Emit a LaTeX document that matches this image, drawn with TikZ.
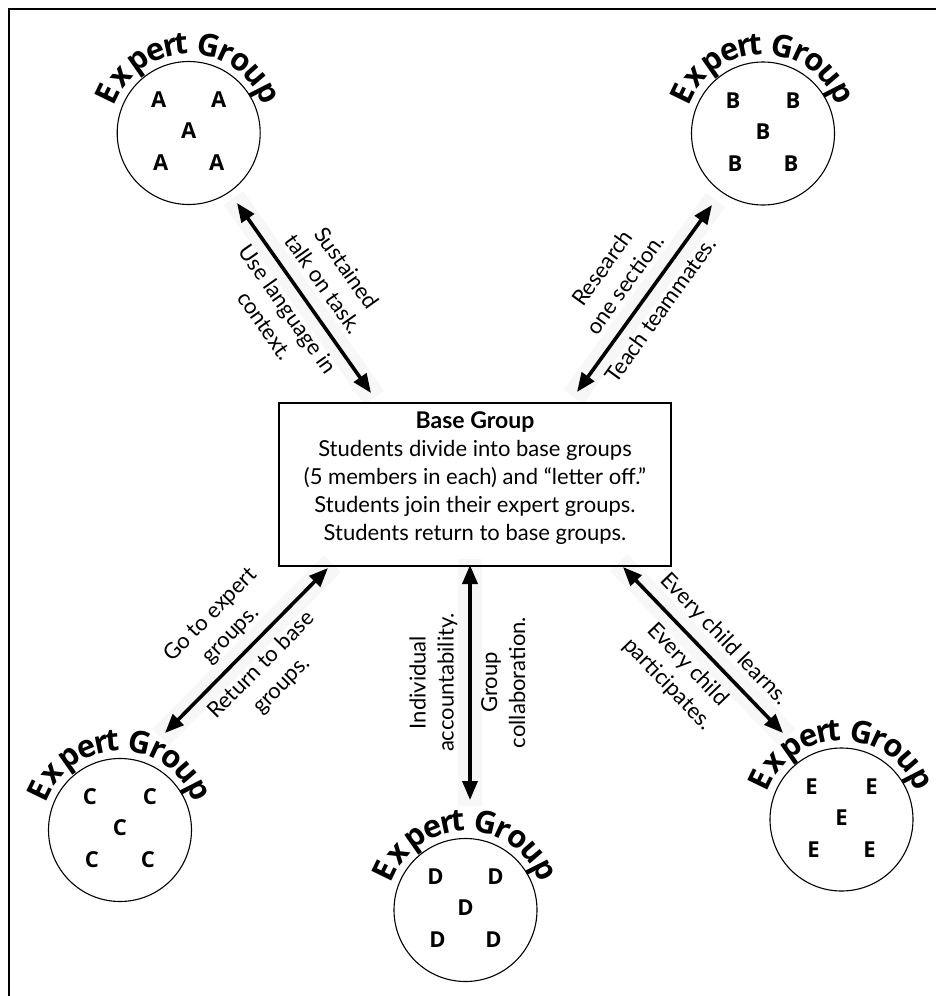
\documentclass[tikz,border=0pt]{standalone}
\usepackage{fontspec}
\setmainfont{Lato}
\newfontfamily\curvefont{Open Sans}
\usetikzlibrary{arrows.meta,calc}

\newcommand\expertgroup[4]{%
  \node[grp] (#1) at (#2,#3) {};
  \foreach \ch/\ang in {E/154,x/140,p/125,e/112,r/102,t/95,G/77,r/65,o/54,u/41,p/27}{
    \node[curvelet,rotate=\ang-90] (#1-t\ang) at ($(#1.center)+(\ang:79pt)$) {\ch};}
  \node[mem] (#1-m1) at ($(#1.center)+(-30,33)$) {#4};
  \node[mem] (#1-m2) at ($(#1.center)+(30,33)$) {#4};
  \node[mem] (#1-m3) at ($(#1.center)+(0,2)$) {#4};
  \node[mem] (#1-m4) at ($(#1.center)+(-28,-30)$) {#4};
  \node[mem] (#1-m5) at ($(#1.center)+(28,-30)$) {#4};
}

\begin{document}
\begin{tikzpicture}[x=1pt,y=1pt,
  frame/.style={line width=1.3pt},
  grp/.style={circle,draw,line width=1.1pt,minimum size=143pt,inner sep=0pt},
  mem/.style={font=\curvefont\fontsize{22}{22}\selectfont\bfseries,inner sep=0pt},
  curvelet/.style={font=\curvefont\fontsize{31}{31}\selectfont\bfseries,inner sep=0pt,anchor=base},
  basebox/.style={draw,line width=1.1pt,minimum width=392pt,minimum height=163pt,align=center,
    font=\fontsize{22}{28}\selectfont,inner sep=0pt},
  link/.style={line width=3.6pt,{Triangle[length=19pt,width=15pt]}-{Triangle[length=19pt,width=15pt]}},
  halo/.style={line width=24pt,black!3,shorten <=-6pt,shorten >=-6pt},
  lbl/.style={font=\fontsize{22}{28}\selectfont,align=center,sloped,inner sep=9.5pt,text depth=5pt}
]
\useasboundingbox (0,0) rectangle (936,-996);
\draw[frame] (9,-1000) -- (9,-9) -- (940,-9);

% arrow end points
\coordinate (a1) at (237,-203);  \coordinate (a2) at (371,-393);
\coordinate (b1) at (577,-392);  \coordinate (b2) at (712,-205);
\coordinate (c1) at (328,-568);  \coordinate (c2) at (165,-733);
\coordinate (d1) at (470,-800);  \coordinate (d2) at (470,-565);
\coordinate (e1) at (623,-567);  \coordinate (e2) at (783,-733);

\draw[halo] (a1) -- (a2);
\draw[halo] (b1) -- (b2);
\draw[halo] (c1) -- (c2);
\draw[halo] (d1) -- (d2);
\draw[halo] (e1) -- (e2);

% base group
\node[basebox] (base) at (475,-484.5) {{\fontsize{23}{28}\selectfont\bfseries Base Group}\\Students divide into base groups\\(5 members in each) and “letter off.”\\Students join their expert groups.\\Students return to base groups.\rule[-17.5pt]{0pt}{1pt}};

\draw[link] (a1) -- (a2)
  node[lbl,above,midway] (la1) {Sustained\\talk on task.}
  node[lbl,below,midway] (la2) {Use language in\\context.};
\draw[link] (b1) -- (b2)
  node[lbl,above,midway] (lb1) {Research\\one section.}
  node[lbl,below,midway] (lb2) {Teach teammates.};
\draw[link] (c1) -- (c2)
  node[lbl,above,midway] (lc1) {Go to expert\\groups.}
  node[lbl,below,midway] (lc2) {Return to base\\groups.};
\draw[link] (d1) -- (d2)
  node[lbl,above,midway] (ld1) {Individual\\accountability.}
  node[lbl,below,midway] (ld2) {Group\\collaboration.};
\draw[link] (e1) -- (e2)
  node[lbl,above,pos=0.53] (le1) {Every child learns.}
  node[lbl,below,midway] (le2) {Every child\\participates.};

\expertgroup{ga}{188.7}{-133}{A}
\expertgroup{gb}{763}{-133.5}{B}
\expertgroup{gc}{120}{-830}{C}
\expertgroup{gd}{465.5}{-910}{D}
\expertgroup{ge}{841.5}{-819.5}{E}
\end{tikzpicture}
\end{document}
